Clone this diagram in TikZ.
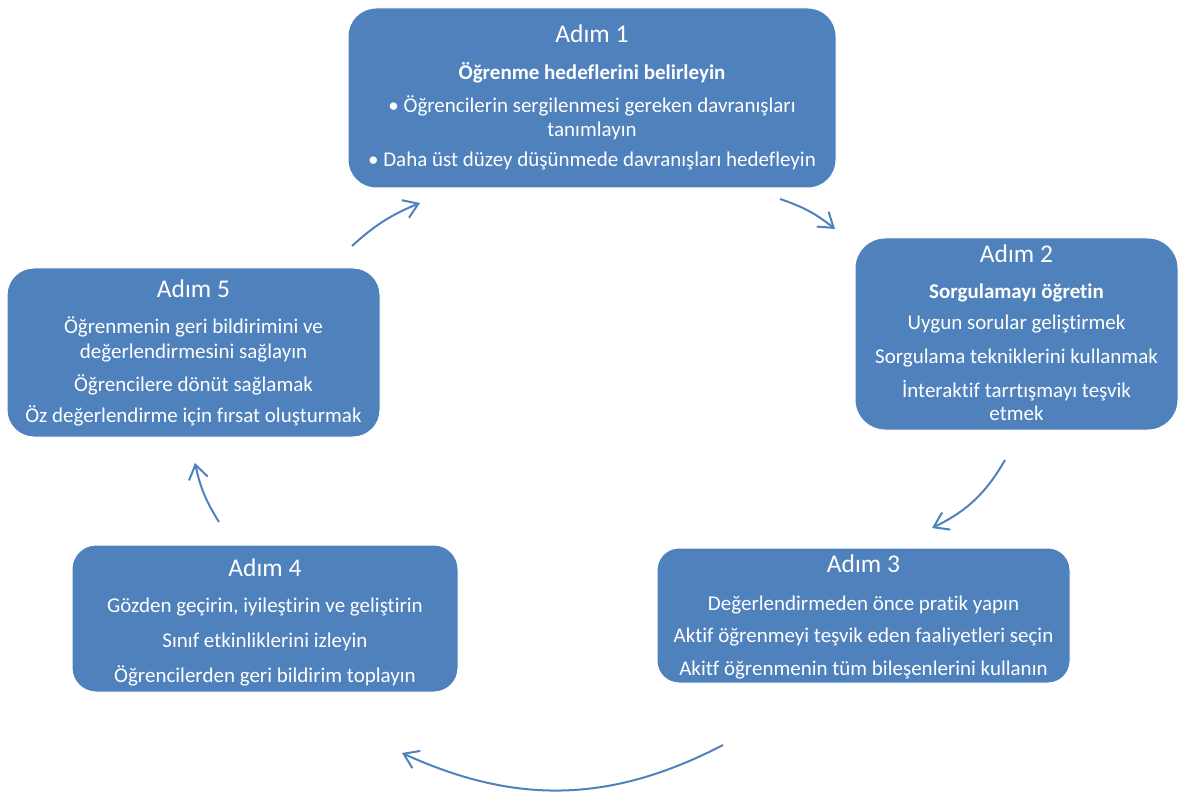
\documentclass[tikz,border=0pt]{standalone}
\usepackage{fontspec}
\setmainfont{Carlito}[Ligatures=NoCommon]
\usetikzlibrary{arrows.meta}
\definecolor{boxblue}{RGB}{79,129,189}
\tikzset{
  box/.style={draw=white, line width=1pt, fill=boxblue, inner sep=0pt, rounded corners=#1},
  ttl/.style={text=white, anchor=base, inner sep=0pt, font=\fontsize{25.5}{30}\selectfont},
  txt/.style={text=white, anchor=base, inner sep=0pt, font=\fontsize{21}{25}\selectfont},
  btxt/.style={txt, font=\fontsize{21}{25}\selectfont\bfseries},
  arr/.style={draw=boxblue, line width=2pt, -{Straight Barb[length=14pt,width=19pt,line width=2pt]}}
}
\begin{document}
\begin{tikzpicture}[x=1pt,y=-1pt]
\useasboundingbox (0,0) rectangle (1181,794);
% boxes
\node[box=28pt, minimum width=488pt, minimum height=180pt] (b1) at (592,98) {};
\node[box=30pt, minimum width=323pt, minimum height=192pt] (b2) at (1016.5,334) {};
\node[box=22pt, minimum width=413pt, minimum height=135pt] (b3) at (863.5,615.5) {};
\node[box=24pt, minimum width=386pt, minimum height=147pt] (b4) at (265,618.5) {};
\node[box=27pt, minimum width=373pt, minimum height=169pt] (b5) at (193.5,352.5) {};
% box 1
\node[ttl]  (t1a) at (592,43)  {Adım 1};
\node[btxt] (t1b) at (592,80)  {Öğrenme hedeflerini belirleyin};
\node[txt]  (t1c) at (592,113) {• Öğrencilerin sergilenmesi gereken davranışları};
\node[txt]  (t1d) at (592,137) {tanımlayın};
\node[txt]  (t1e) at (592,167) {• Daha üst düzey düşünmede davranışları hedefleyin};
% box 2
\node[ttl]  (t2a) at (1016.5,263) {Adım 2};
\node[btxt] (t2b) at (1016.5,299) {Sorgulamayı öğretin};
\node[txt]  (t2c) at (1016.5,330) {Uygun sorular geliştirmek};
\node[txt]  (t2d) at (1016.5,363) {Sorgulama tekniklerini kullanmak};
\node[txt]  (t2e) at (1016.5,397) {İnteraktif tarrtışmayı teşvik};
\node[txt]  (t2f) at (1016.5,420) {etmek};
% box 3
\node[ttl] (t3a) at (863.5,572) {Adım 3};
\node[txt] (t3b) at (863.5,610) {Değerlendirmeden önce pratik yapın};
\node[txt] (t3c) at (863.5,642) {Aktif öğrenmeyi teşvik eden faaliyetleri seçin};
\node[txt] (t3d) at (863.5,675) {Akitf öğrenmenin tüm bileşenlerini kullanın};
% box 4
\node[ttl] (t4a) at (265,576) {Adım 4};
\node[txt] (t4b) at (265,612) {Gözden geçirin, iyileştirin ve geliştirin};
\node[txt] (t4c) at (265,647) {Sınıf etkinliklerini izleyin};
\node[txt] (t4d) at (265,682) {Öğrencilerden geri bildirim toplayın};
% box 5
\node[ttl] (t5a) at (193.5,298) {Adım 5};
\node[txt] (t5b) at (193.5,334) {Öğrenmenin geri bildirimini ve};
\node[txt] (t5c) at (193.5,359) {değerlendirmesini sağlayın};
\node[txt] (t5d) at (193.5,391) {Öğrencilere dönüt sağlamak};
\node[txt] (t5e) at (193.5,422) {Öz değerlendirme için fırsat oluşturmak};
% arrows
\coordinate (a1s) at (780,199);  \coordinate (a1e) at (835,229);
\coordinate (a2s) at (1005,460); \coordinate (a2e) at (932,528);
\coordinate (a3s) at (723,745);  \coordinate (a3e) at (402,753);
\coordinate (a4s) at (219,522);  \coordinate (a4e) at (195,463);
\coordinate (a5s) at (352,246);  \coordinate (a5e) at (420,203);
\draw[arr] (a1s) to[bend left=10] (a1e);
\draw[arr] (a2s) to[bend left=17] (a2e);
\draw[arr] (a3s) to[bend left=26] (a3e);
\draw[arr] (a4s) to[bend left=10] (a4e);
\draw[arr] (a5s) to[bend left=10] (a5e);
\end{tikzpicture}
\end{document}
